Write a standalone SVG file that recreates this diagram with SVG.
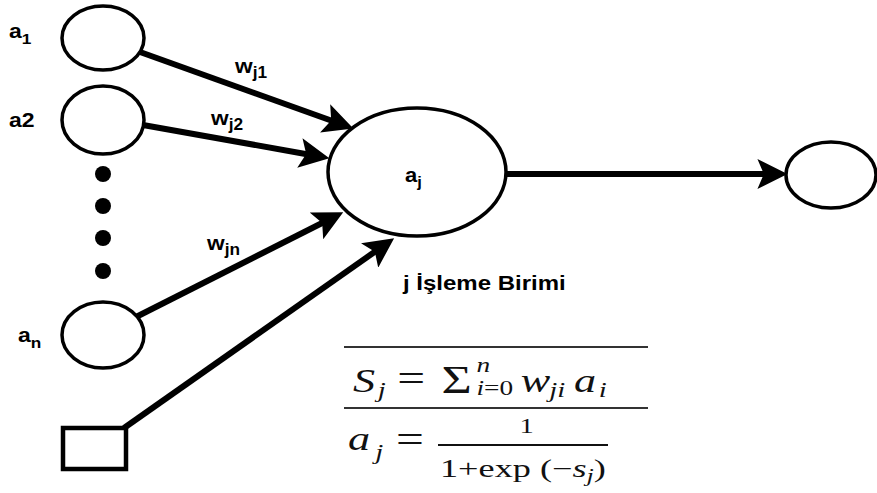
<svg xmlns="http://www.w3.org/2000/svg" width="877" height="493" viewBox="0 0 877 493">
<defs>
<style>
.node{fill:#fff;stroke:#000;stroke-width:3.5}
.conn{stroke:#000;stroke-width:6;fill:none;marker-end:url(#ah)}
.lbl{font-family:"Liberation Sans",Arial,sans-serif;font-weight:bold;fill:#000}
.m{font-family:"Liberation Serif","Times New Roman",serif;fill:#111}
.mi{font-family:"Liberation Serif","Times New Roman",serif;font-style:italic;fill:#111}
.rule{stroke:#333;stroke-width:2}
</style>
<marker id="ah" markerUnits="userSpaceOnUse" markerWidth="30" markerHeight="30" viewBox="0 0 28 28" refX="8" refY="14" orient="auto">
<path d="M0,0 L28,14 L0,28 L6,14 z" fill="#000"/>
</marker>
</defs>
<rect width="877" height="493" fill="#fff"/>

<g id="connectors">
<line class="conn" x1="140" y1="52" x2="333.2" y2="121.3"/>
<line class="conn" x1="143" y1="125" x2="308.3" y2="154.5"/>
<line class="conn" x1="136" y1="317" x2="324.1" y2="222"/>
<line class="conn" x1="124" y1="428" x2="376.6" y2="250.5"/>
<line class="conn" x1="507" y1="174" x2="766" y2="174"/>
</g>

<g id="node-a1"><ellipse class="node" cx="103" cy="38" rx="41" ry="32"/>
<text class="lbl" transform="translate(9,38) scale(1.15,1)" font-size="20">a<tspan font-size="15" dy="6">1</tspan></text></g>
<g id="node-a2"><ellipse class="node" cx="103" cy="120" rx="41" ry="34"/>
<text class="lbl" transform="translate(9,127) scale(1.15,1)" font-size="20">a2</text></g>
<g id="dots" fill="#000">
<circle cx="103" cy="174" r="8"/><circle cx="103" cy="206" r="8"/><circle cx="103" cy="238" r="8"/><circle cx="103" cy="271" r="8"/>
</g>
<g id="node-an"><ellipse class="node" cx="103" cy="335" rx="41" ry="33"/>
<text class="lbl" transform="translate(18,342) scale(1.15,1)" font-size="20">a<tspan font-size="15" dy="6">n</tspan></text></g>
<g id="node-bias"><rect x="63" y="428" width="63" height="41" fill="#fff" stroke="#000" stroke-width="4.5"/></g>

<g id="node-aj"><ellipse class="node" cx="417" cy="172" rx="89" ry="64" stroke-width="4"/>
<text class="lbl" transform="translate(405,182) scale(1.1,1)" font-size="20">a<tspan font-size="15" dy="5">j</tspan></text>
<text class="lbl" transform="translate(403,290) scale(1.2,1)" font-size="20">j İşleme Birimi</text></g>

<g id="node-out"><ellipse class="node" cx="831" cy="175" rx="45" ry="33"/></g>

<g id="weights">
<text class="lbl" transform="translate(235,73) scale(1.08,1)" font-size="21">w<tspan font-size="16" dy="5">j1</tspan></text>
<text class="lbl" transform="translate(211,125) scale(1.08,1)" font-size="21">w<tspan font-size="16" dy="5">j2</tspan></text>
<text class="lbl" transform="translate(207,250) scale(1.08,1)" font-size="21">w<tspan font-size="16" dy="5">jn</tspan></text>
</g>

<g id="formula">
<line class="rule" x1="344" y1="347" x2="648" y2="347"/>
<line class="rule" x1="344" y1="408" x2="648" y2="408"/>
<g transform="translate(353,392) scale(1.3,1)">
<text class="mi" x="0" y="0" font-size="34">S</text>
<text class="mi" x="19" y="5" font-size="22">j</text>
<text class="m" x="34" y="-1" font-size="38">=</text>
<text class="m" x="68" y="1" font-size="40">Σ</text>
<text class="mi" x="95" y="-20" font-size="21">n</text>
<text class="mi" x="95" y="3" font-size="21">i<tspan class="m" font-style="normal">=0</tspan></text>
<text class="mi" x="129" y="0" font-size="34">w</text>
<text class="mi" x="151" y="5" font-size="22">ji</text>
<text class="mi" x="170" y="0" font-size="34">a</text>
<text class="mi" x="189" y="5" font-size="22">i</text>
</g>
<g transform="translate(348,450) scale(1.3,1)">
<text class="mi" x="0" y="0" font-size="34">a</text>
<text class="mi" x="21" y="9" font-size="22">j</text>
<text class="m" x="37" y="2" font-size="38">=</text>
<text class="m" x="132" y="-17" font-size="22">1</text>
</g>
<line x1="438" y1="445" x2="608" y2="445" stroke="#111" stroke-width="2"/>
<g transform="translate(440,477) scale(1.45,1)">
<text class="m" x="0" y="0" font-size="25">1+exp (−<tspan class="mi" font-style="italic">s</tspan><tspan class="mi" font-style="italic" font-size="18" dy="5">j</tspan><tspan dy="-5">)</tspan></text>
</g>
</g>
</svg>
